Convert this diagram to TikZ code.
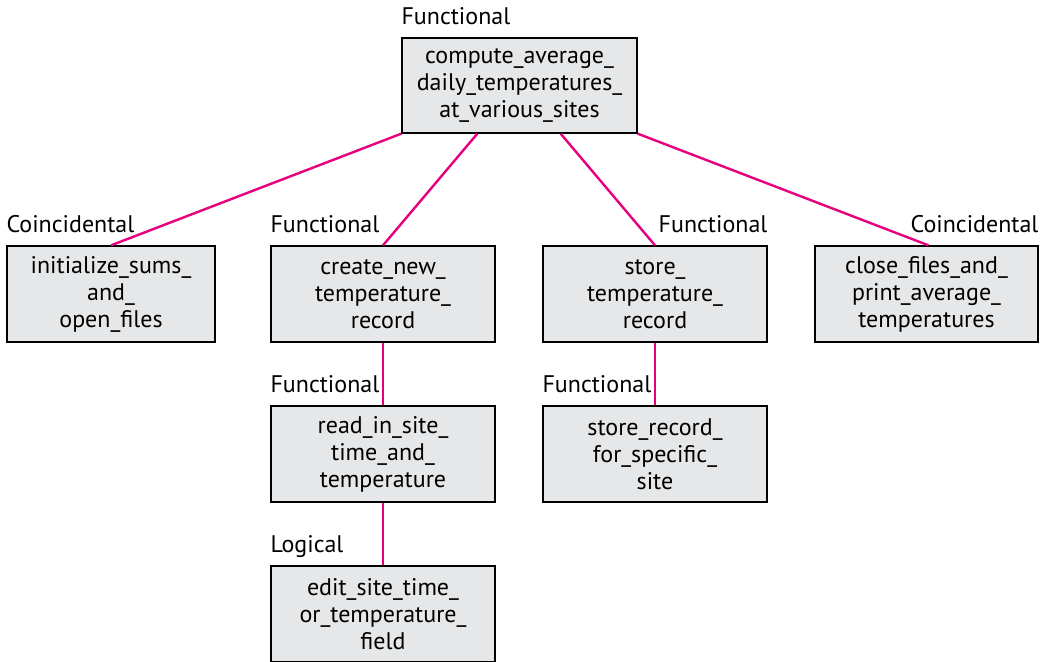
\documentclass[tikz,border=0pt]{standalone}
\usepackage{fontspec}
\setmainfont{PT Sans}
\usetikzlibrary{calc}
\definecolor{boxfill}{HTML}{E6E7E8}
\definecolor{link}{HTML}{E6007E}
\tikzset{
  modbox/.style={draw=black, line width=1.3pt, fill=boxfill, align=center,
    minimum height=96pt, inner sep=0pt,
    font=\fontsize{24}{27}\selectfont},
  lbl/.style={font=\fontsize{24}{27}\selectfont, inner sep=0pt},
  conn/.style={draw=link, line width=2.4pt}
}
\begin{document}
\begin{tikzpicture}[x=1pt,y=-1pt]
\useasboundingbox (0,0) rectangle (1041,661);
% boxes
\node[modbox, minimum width=235pt, minimum height=95pt] (top) at (519.5,85.5)
  {compute\_average\_\\daily\_temperatures\_\\at\_various\_sites};
\node[modbox, minimum width=208pt] (b1) at (111,294) {initialize\_sums\_\\and\_\\open\_files};
\node[modbox, minimum width=224pt] (b2) at (383,294) {create\_new\_\\temperature\_\\record};
\node[modbox, minimum width=224pt] (b3) at (655,294) {store\_\\temperature\_\\record};
\node[modbox, minimum width=223pt] (b4) at (926.5,294) {close\_files\_and\_\\print\_average\_\\temperatures};
\node[modbox, minimum width=224pt] (b5) at (383,454) {read\_in\_site\_\\time\_and\_\\temperature};
\node[modbox, minimum width=224pt] (b6) at (655,454) {store\_record\_\\for\_specific\_\\site};
\node[modbox, minimum width=224pt] (b7) at (383,614) {edit\_site\_time\_\\or\_temperature\_\\field};
% labels
\node[lbl, anchor=base west] (l0) at ([yshift=13pt]top.north west) {Functional};
\node[lbl, anchor=base west] (l1) at ([yshift=13pt]b1.north west) {Coincidental};
\node[lbl, anchor=base west] (l2) at ([yshift=13pt]b2.north west) {Functional};
\node[lbl, anchor=base east] (l3) at ([yshift=13pt]b3.north east) {Functional};
\node[lbl, anchor=base east] (l4) at ([yshift=13pt]b4.north east) {Coincidental};
\node[lbl, anchor=base west] (l5) at ([yshift=13pt]b5.north west) {Functional};
\node[lbl, anchor=base west] (l6) at ([yshift=13pt]b6.north west) {Functional};
\node[lbl, anchor=base west] (l7) at ([yshift=13pt]b7.north west) {Logical};
% connectors
\draw[conn] (top.south west) -- (b1.north);
\draw[conn] ([xshift=76pt]top.south west) -- (b2.north);
\draw[conn] ([xshift=-77pt]top.south east) -- (b3.north);
\draw[conn] (top.south east) -- ([xshift=2pt]b4.north);
\draw[conn] (b2.south) -- (b5.north);
\draw[conn] (b5.south) -- (b7.north);
\draw[conn] (b3.south) -- (b6.north);
\end{tikzpicture}
\end{document}
